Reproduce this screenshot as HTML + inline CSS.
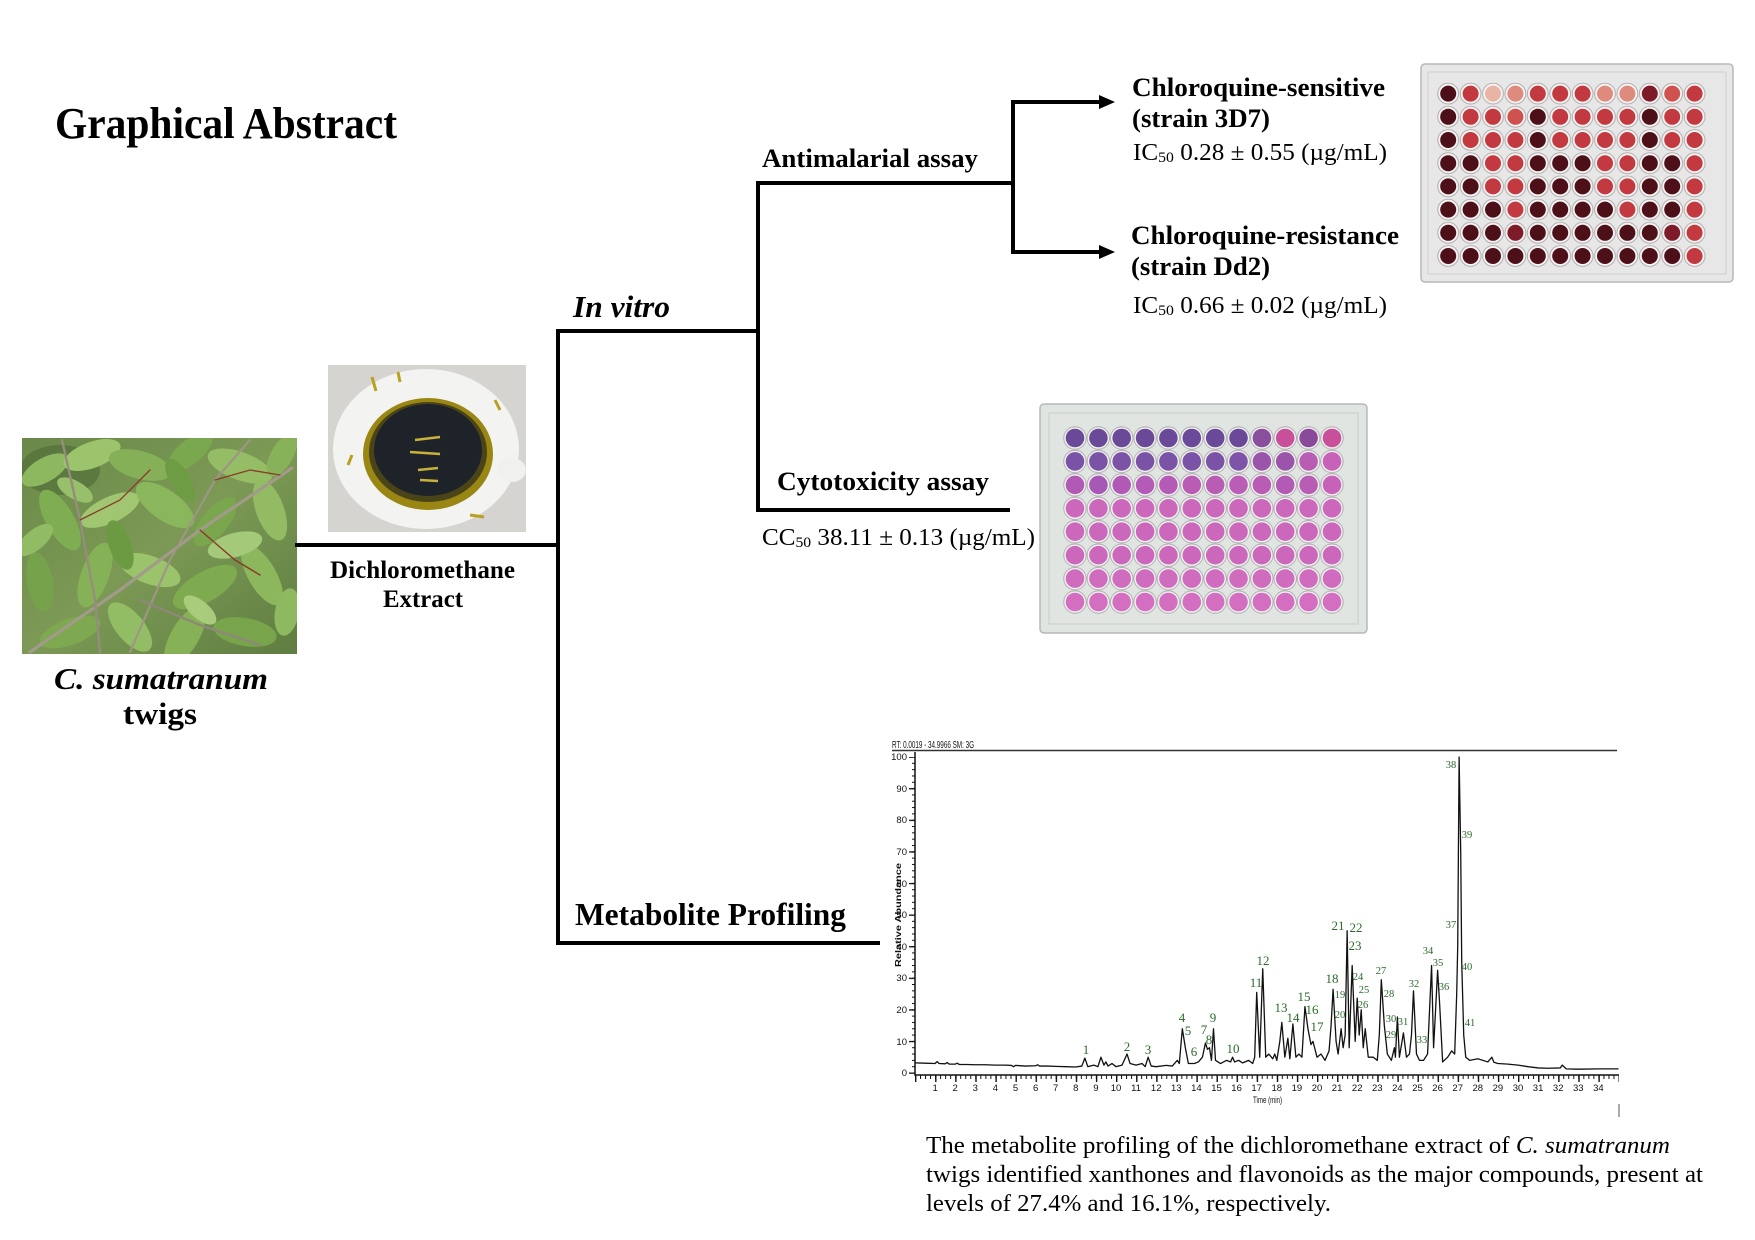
<!DOCTYPE html>
<html><head><meta charset="utf-8"><style>
html,body{margin:0;padding:0;background:#fff;}
svg{display:block;}
.t{font-family:"Liberation Serif",serif;fill:#000;}
.b{font-weight:bold;}
.i{font-style:italic;}
.lab{font-family:"Liberation Serif",serif;fill:#2b6a2b;text-anchor:middle;}
.ax{font-family:"Liberation Sans",sans-serif;fill:#111;}
</style></head><body>
<svg width="1755" height="1240" viewBox="0 0 1755 1240" xmlns="http://www.w3.org/2000/svg">
<defs>
<clipPath id="leafclip"><rect x="22" y="438" width="275" height="216"/></clipPath>
<clipPath id="bowlclip"><rect x="328" y="365" width="198" height="167"/></clipPath>
<linearGradient id="leafbg" x1="0" y1="0" x2="1" y2="1"><stop offset="0" stop-color="#6a8848"/><stop offset="0.5" stop-color="#7c9a55"/><stop offset="1" stop-color="#5f7d40"/></linearGradient>
<pattern id="rim1" x="1437" y="82" width="22.4" height="23.2" patternUnits="userSpaceOnUse"><circle cx="11.2" cy="11.6" r="10.4" fill="#f5f3f3" stroke="#aaa5a5" stroke-width="0.9"/></pattern>
<pattern id="rim2" x="1063.3" y="426.3" width="23.36" height="23.43" patternUnits="userSpaceOnUse"><circle cx="11.68" cy="11.7" r="11.2" fill="#f4f2f4" stroke="#a9aaa9" stroke-width="0.9"/></pattern>
<pattern id="xtm" x="915" y="1075" width="5.025" height="10" patternUnits="userSpaceOnUse"><rect x="0" y="0" width="1" height="4" fill="#111"/></pattern>
<pattern id="xtM" x="915" y="1075" width="20.1" height="10" patternUnits="userSpaceOnUse"><rect x="0" y="0" width="1.4" height="7" fill="#111"/></pattern>
<pattern id="ytm" x="908" y="1072.5" width="7" height="6.32" patternUnits="userSpaceOnUse"><rect x="4" y="0" width="3" height="1" fill="#111"/></pattern>
<pattern id="ytM" x="908" y="1072.5" width="7" height="31.6" patternUnits="userSpaceOnUse"><rect x="1" y="0" width="6" height="1.3" fill="#111"/></pattern>
</defs>

<!-- Title -->
<text class="t b" x="55" y="138" font-size="44" textLength="342" lengthAdjust="spacingAndGlyphs">Graphical Abstract</text>

<!-- Leaf photo -->
<g clip-path="url(#leafclip)">
<rect x="22" y="438" width="275" height="216" fill="url(#leafbg)"/>
<ellipse cx="60" cy="470" rx="40" ry="25" fill="#4f6b38" opacity="0.6"/>
<g>
<ellipse cx="45" cy="470" rx="26" ry="12" transform="rotate(-30 45 470)" fill="#8db860"/>
<ellipse cx="92" cy="455" rx="30" ry="13" transform="rotate(-20 92 455)" fill="#9cc46c"/>
<ellipse cx="140" cy="465" rx="32" ry="14" transform="rotate(15 140 465)" fill="#86b058"/>
<ellipse cx="190" cy="452" rx="28" ry="12" transform="rotate(-40 190 452)" fill="#7aa84e"/>
<ellipse cx="240" cy="466" rx="34" ry="14" transform="rotate(20 240 466)" fill="#95bd66"/>
<ellipse cx="282" cy="455" rx="24" ry="11" transform="rotate(-60 282 455)" fill="#88b25a"/>
<ellipse cx="60" cy="520" rx="34" ry="14" transform="rotate(60 60 520)" fill="#7fae52"/>
<ellipse cx="110" cy="510" rx="32" ry="13" transform="rotate(-25 110 510)" fill="#a0c672"/>
<ellipse cx="165" cy="505" rx="34" ry="15" transform="rotate(35 165 505)" fill="#8ab75c"/>
<ellipse cx="215" cy="522" rx="30" ry="13" transform="rotate(-50 215 522)" fill="#7aa74d"/>
<ellipse cx="270" cy="510" rx="32" ry="14" transform="rotate(70 270 510)" fill="#92bb63"/>
<ellipse cx="40" cy="582" rx="30" ry="13" transform="rotate(80 40 582)" fill="#75a24a"/>
<ellipse cx="95" cy="575" rx="34" ry="14" transform="rotate(-70 95 575)" fill="#86b257"/>
<ellipse cx="150" cy="570" rx="32" ry="14" transform="rotate(20 150 570)" fill="#9ac36b"/>
<ellipse cx="205" cy="587" rx="36" ry="15" transform="rotate(-30 205 587)" fill="#7fab50"/>
<ellipse cx="262" cy="575" rx="34" ry="14" transform="rotate(60 262 575)" fill="#8cb75d"/>
<ellipse cx="70" cy="632" rx="32" ry="13" transform="rotate(-20 70 632)" fill="#7ea950"/>
<ellipse cx="130" cy="627" rx="30" ry="14" transform="rotate(50 130 627)" fill="#93bd65"/>
<ellipse cx="185" cy="636" rx="34" ry="14" transform="rotate(-60 185 636)" fill="#86b157"/>
<ellipse cx="245" cy="632" rx="32" ry="14" transform="rotate(10 245 632)" fill="#78a54b"/>
<ellipse cx="287" cy="612" rx="24" ry="12" transform="rotate(-80 287 612)" fill="#8fb960"/>
<ellipse cx="120" cy="545" rx="26" ry="11" transform="rotate(70 120 545)" fill="#6c9a42"/>
<ellipse cx="235" cy="545" rx="28" ry="12" transform="rotate(-15 235 545)" fill="#a4c978"/>
<ellipse cx="180" cy="480" rx="24" ry="10" transform="rotate(60 180 480)" fill="#6e9c44"/>
<ellipse cx="35" cy="540" rx="22" ry="10" transform="rotate(-40 35 540)" fill="#92bc64"/>
<ellipse cx="200" cy="610" rx="20" ry="9" transform="rotate(40 200 610)" fill="#a8cc7c"/>
<ellipse cx="75" cy="490" rx="20" ry="9" transform="rotate(30 75 490)" fill="#98c06a"/>
</g>
<g stroke-linecap="round" fill="none">
<path d="M30,652 L120,590 L200,530 L292,468" stroke="#a29a8a" stroke-width="3.2"/>
<path d="M62,440 L80,520 L95,600 L100,652" stroke="#958d7d" stroke-width="2.4"/>
<path d="M130,652 L170,560 L215,480 L250,440" stroke="#9e9684" stroke-width="2.2"/>
<path d="M140,600 L200,625 L260,645" stroke="#8e8878" stroke-width="2.5"/>
<path d="M200,530 L235,560 L260,575" stroke="#8b3a2a" stroke-width="1.4"/>
<path d="M80,520 L120,500 L150,470" stroke="#8b3a2a" stroke-width="1.3"/>
<path d="M215,480 L250,470 L280,475" stroke="#8b3a2a" stroke-width="1.3"/>
</g>
</g>

<!-- Bowl photo -->
<g clip-path="url(#bowlclip)">
<rect x="328" y="365" width="198" height="167" fill="#d6d4d0"/>
<ellipse cx="426" cy="449" rx="93" ry="80" fill="#f3f3f1"/>
<ellipse cx="512" cy="470" rx="14" ry="12" fill="#f0f0ee"/>
<ellipse cx="428" cy="454" rx="65" ry="56" fill="#9a8612"/>
<ellipse cx="428" cy="452" rx="59" ry="50" fill="#4a4418"/>
<ellipse cx="428" cy="450" rx="54" ry="46" fill="#1e2329"/>
<path d="M415,440 l25,-3 M410,452 l30,2 M418,470 l20,-2 M420,480 l18,1" stroke="#c9b23a" stroke-width="2.5"/>
<path d="M372,377 l4,14 M398,372 l2,10 M495,400 l5,10 M352,455 l-4,10 M470,515 l14,2" stroke="#b8a020" stroke-width="3"/>
</g>

<!-- Left labels -->
<text class="t b i" x="54" y="689" font-size="31" textLength="214" lengthAdjust="spacingAndGlyphs">C. sumatranum</text>
<text class="t b" x="123" y="724" font-size="31" textLength="74" lengthAdjust="spacingAndGlyphs">twigs</text>
<text class="t b" x="330" y="578" font-size="25" textLength="185" lengthAdjust="spacingAndGlyphs">Dichloromethane</text>
<text class="t b" x="383" y="607" font-size="25" textLength="80" lengthAdjust="spacingAndGlyphs">Extract</text>

<!-- Tree lines -->
<g stroke="#000" stroke-width="4" fill="none" stroke-linecap="square">
<path d="M297,545 H558"/>
<path d="M558,331 V943"/>
<path d="M558,331 H758"/>
<path d="M758,183 V510"/>
<path d="M758,183 H1013"/>
<path d="M1013,102 V252"/>
<path d="M1013,102 H1101"/>
<path d="M1013,252 H1101"/>
<path d="M758,510 H1008"/>
<path d="M558,943 H878"/>
</g>
<polygon points="1099,95 1115,102 1099,109" fill="#000"/>
<polygon points="1099,245 1115,252 1099,259" fill="#000"/>

<text class="t b i" x="573" y="317" font-size="31" textLength="97" lengthAdjust="spacingAndGlyphs">In vitro</text>
<text class="t b" x="762" y="167" font-size="26" textLength="216" lengthAdjust="spacingAndGlyphs">Antimalarial assay</text>
<text class="t b" x="1132" y="96" font-size="26" textLength="253" lengthAdjust="spacingAndGlyphs">Chloroquine-sensitive</text>
<text class="t b" x="1132" y="127" font-size="26" textLength="138" lengthAdjust="spacingAndGlyphs">(strain 3D7)</text>
<text class="t" x="1133" y="160" font-size="24" textLength="254" lengthAdjust="spacingAndGlyphs">IC<tspan font-size="15" dy="2">50</tspan><tspan dy="-2"> 0.28 ± 0.55 (µg/mL)</tspan></text>
<text class="t b" x="1131" y="244" font-size="26" textLength="268" lengthAdjust="spacingAndGlyphs">Chloroquine-resistance</text>
<text class="t b" x="1131" y="275" font-size="26" textLength="139" lengthAdjust="spacingAndGlyphs">(strain Dd2)</text>
<text class="t" x="1133" y="313" font-size="24" textLength="254" lengthAdjust="spacingAndGlyphs">IC<tspan font-size="15" dy="2">50</tspan><tspan dy="-2"> 0.66 ± 0.02 (µg/mL)</tspan></text>
<text class="t b" x="777" y="490" font-size="26" textLength="212" lengthAdjust="spacingAndGlyphs">Cytotoxicity assay</text>
<text class="t" x="762" y="545" font-size="24" textLength="273" lengthAdjust="spacingAndGlyphs">CC<tspan font-size="15" dy="2">50</tspan><tspan dy="-2"> 38.11 ± 0.13 (µg/mL)</tspan></text>
<text class="t b" x="575" y="925" font-size="32" textLength="271" lengthAdjust="spacingAndGlyphs">Metabolite Profiling</text>

<!-- Plate 1 -->
<rect x="1421" y="64" width="312" height="218" rx="4" fill="#e8e7e7" stroke="#b9b7b7" stroke-width="1.5"/>
<rect x="1428" y="72" width="298" height="202" fill="none" stroke="#cfcdcd" stroke-width="1"/>
<rect x="1437" y="82" width="268.8" height="185.6" fill="url(#rim1)"/>
<g transform="translate(-7,0)">
<g transform="translate(0,93.6)"><circle cx="1455.2" r="8" fill="#4d1019"/><circle cx="1477.6" r="8" fill="#c23a40"/><circle cx="1500" r="8" fill="#e8b4a4"/><circle cx="1522.4" r="8" fill="#de8a7c"/><circle cx="1544.8" r="8" fill="#c23a40"/><circle cx="1567.2" r="8" fill="#c23a40"/><circle cx="1589.6" r="8" fill="#c23a40"/><circle cx="1612" r="8" fill="#de8a7c"/><circle cx="1634.4" r="8" fill="#de8a7c"/><circle cx="1656.8" r="8" fill="#7d1c28"/><circle cx="1679.2" r="8" fill="#d0524e"/><circle cx="1701.6" r="8" fill="#c23a40"/></g>
<g transform="translate(0,116.8)"><circle cx="1455.2" r="8" fill="#4d1019"/><circle cx="1477.6" r="8" fill="#c23a40"/><circle cx="1500" r="8" fill="#c23a40"/><circle cx="1522.4" r="8" fill="#d0524e"/><circle cx="1544.8" r="8" fill="#4d1019"/><circle cx="1567.2" r="8" fill="#c23a40"/><circle cx="1589.6" r="8" fill="#c23a40"/><circle cx="1612" r="8" fill="#c23a40"/><circle cx="1634.4" r="8" fill="#c23a40"/><circle cx="1656.8" r="8" fill="#4d1019"/><circle cx="1679.2" r="8" fill="#c23a40"/><circle cx="1701.6" r="8" fill="#c23a40"/></g>
<g transform="translate(0,140)"><circle cx="1455.2" r="8" fill="#4d1019"/><circle cx="1477.6" r="8" fill="#c23a40"/><circle cx="1500" r="8" fill="#c23a40"/><circle cx="1522.4" r="8" fill="#c23a40"/><circle cx="1544.8" r="8" fill="#4d1019"/><circle cx="1567.2" r="8" fill="#c23a40"/><circle cx="1589.6" r="8" fill="#c23a40"/><circle cx="1612" r="8" fill="#c23a40"/><circle cx="1634.4" r="8" fill="#c23a40"/><circle cx="1656.8" r="8" fill="#4d1019"/><circle cx="1679.2" r="8" fill="#c23a40"/><circle cx="1701.6" r="8" fill="#c23a40"/></g>
<g transform="translate(0,163.2)"><circle cx="1455.2" r="8" fill="#4d1019"/><circle cx="1477.6" r="8" fill="#4d1019"/><circle cx="1500" r="8" fill="#c23a40"/><circle cx="1522.4" r="8" fill="#c23a40"/><circle cx="1544.8" r="8" fill="#4d1019"/><circle cx="1567.2" r="8" fill="#4d1019"/><circle cx="1589.6" r="8" fill="#4d1019"/><circle cx="1612" r="8" fill="#c23a40"/><circle cx="1634.4" r="8" fill="#c23a40"/><circle cx="1656.8" r="8" fill="#4d1019"/><circle cx="1679.2" r="8" fill="#4d1019"/><circle cx="1701.6" r="8" fill="#c23a40"/></g>
<g transform="translate(0,186.4)"><circle cx="1455.2" r="8" fill="#4d1019"/><circle cx="1477.6" r="8" fill="#4d1019"/><circle cx="1500" r="8" fill="#c23a40"/><circle cx="1522.4" r="8" fill="#c23a40"/><circle cx="1544.8" r="8" fill="#4d1019"/><circle cx="1567.2" r="8" fill="#4d1019"/><circle cx="1589.6" r="8" fill="#4d1019"/><circle cx="1612" r="8" fill="#c23a40"/><circle cx="1634.4" r="8" fill="#c23a40"/><circle cx="1656.8" r="8" fill="#4d1019"/><circle cx="1679.2" r="8" fill="#4d1019"/><circle cx="1701.6" r="8" fill="#c23a40"/></g>
<g transform="translate(0,209.6)"><circle cx="1455.2" r="8" fill="#4d1019"/><circle cx="1477.6" r="8" fill="#4d1019"/><circle cx="1500" r="8" fill="#4d1019"/><circle cx="1522.4" r="8" fill="#c23a40"/><circle cx="1544.8" r="8" fill="#4d1019"/><circle cx="1567.2" r="8" fill="#4d1019"/><circle cx="1589.6" r="8" fill="#4d1019"/><circle cx="1612" r="8" fill="#4d1019"/><circle cx="1634.4" r="8" fill="#c23a40"/><circle cx="1656.8" r="8" fill="#4d1019"/><circle cx="1679.2" r="8" fill="#4d1019"/><circle cx="1701.6" r="8" fill="#c23a40"/></g>
<g transform="translate(0,232.8)"><circle cx="1455.2" r="8" fill="#4d1019"/><circle cx="1477.6" r="8" fill="#4d1019"/><circle cx="1500" r="8" fill="#4d1019"/><circle cx="1522.4" r="8" fill="#7d1c28"/><circle cx="1544.8" r="8" fill="#4d1019"/><circle cx="1567.2" r="8" fill="#4d1019"/><circle cx="1589.6" r="8" fill="#4d1019"/><circle cx="1612" r="8" fill="#4d1019"/><circle cx="1634.4" r="8" fill="#4d1019"/><circle cx="1656.8" r="8" fill="#4d1019"/><circle cx="1679.2" r="8" fill="#7d1c28"/><circle cx="1701.6" r="8" fill="#c23a40"/></g>
<g transform="translate(0,256)"><circle cx="1455.2" r="8" fill="#4d1019"/><circle cx="1477.6" r="8" fill="#4d1019"/><circle cx="1500" r="8" fill="#4d1019"/><circle cx="1522.4" r="8" fill="#4d1019"/><circle cx="1544.8" r="8" fill="#4d1019"/><circle cx="1567.2" r="8" fill="#4d1019"/><circle cx="1589.6" r="8" fill="#4d1019"/><circle cx="1612" r="8" fill="#4d1019"/><circle cx="1634.4" r="8" fill="#4d1019"/><circle cx="1656.8" r="8" fill="#4d1019"/><circle cx="1679.2" r="8" fill="#4d1019"/><circle cx="1701.6" r="8" fill="#c23a40"/></g>
</g>

<!-- Plate 2 -->
<rect x="1040" y="404" width="327" height="229" rx="4" fill="#e1e5e1" stroke="#b6bab6" stroke-width="1.5"/>
<rect x="1049" y="413" width="309" height="211" fill="none" stroke="#c9cdc9" stroke-width="1"/>
<rect x="1063.3" y="426.3" width="280.4" height="187.5" fill="url(#rim2)"/>
<g>
<g transform="translate(0,438)"><circle cx="1075" r="9.3" fill="#6a4a98"/><circle cx="1098.4" r="9.3" fill="#6a4a98"/><circle cx="1121.7" r="9.3" fill="#6a4a98"/><circle cx="1145.1" r="9.3" fill="#6a4a98"/><circle cx="1168.4" r="9.3" fill="#6a4a98"/><circle cx="1191.8" r="9.3" fill="#6a4a98"/><circle cx="1215.2" r="9.3" fill="#6a4a98"/><circle cx="1238.5" r="9.3" fill="#6a4a98"/><circle cx="1261.9" r="9.3" fill="#8a4f9c"/><circle cx="1285.2" r="9.3" fill="#c8509a"/><circle cx="1308.6" r="9.3" fill="#8a4a9a"/><circle cx="1332" r="9.3" fill="#c8509a"/></g>
<g transform="translate(0,461.4)"><circle cx="1075" r="9.3" fill="#7a53a6"/><circle cx="1098.4" r="9.3" fill="#7a53a6"/><circle cx="1121.7" r="9.3" fill="#7a53a6"/><circle cx="1145.1" r="9.3" fill="#7a53a6"/><circle cx="1168.4" r="9.3" fill="#7a53a6"/><circle cx="1191.8" r="9.3" fill="#7a53a6"/><circle cx="1215.2" r="9.3" fill="#7a53a6"/><circle cx="1238.5" r="9.3" fill="#7d54a8"/><circle cx="1261.9" r="9.3" fill="#9a55ab"/><circle cx="1285.2" r="9.3" fill="#9a55ab"/><circle cx="1308.6" r="9.3" fill="#b85cb4"/><circle cx="1332" r="9.3" fill="#c862b8"/></g>
<g transform="translate(0,484.9)"><circle cx="1075" r="9.3" fill="#b05ab5"/><circle cx="1098.4" r="9.3" fill="#a658b4"/><circle cx="1121.7" r="9.3" fill="#b05ab5"/><circle cx="1145.1" r="9.3" fill="#b35bb6"/><circle cx="1168.4" r="9.3" fill="#b35bb6"/><circle cx="1191.8" r="9.3" fill="#b85cb4"/><circle cx="1215.2" r="9.3" fill="#b85cb4"/><circle cx="1238.5" r="9.3" fill="#ba5db6"/><circle cx="1261.9" r="9.3" fill="#b85cb4"/><circle cx="1285.2" r="9.3" fill="#b25ab4"/><circle cx="1308.6" r="9.3" fill="#b85cb4"/><circle cx="1332" r="9.3" fill="#c862b8"/></g>
</g>
<g fill="#cc68bc">
<g transform="translate(0,508.3)"><circle cx="1075" r="9.3"/><circle cx="1098.4" r="9.3"/><circle cx="1121.7" r="9.3"/><circle cx="1145.1" r="9.3"/><circle cx="1168.4" r="9.3"/><circle cx="1191.8" r="9.3"/><circle cx="1215.2" r="9.3"/><circle cx="1238.5" r="9.3"/><circle cx="1261.9" r="9.3"/><circle cx="1285.2" r="9.3"/><circle cx="1308.6" r="9.3"/><circle cx="1332" r="9.3"/></g>
<g transform="translate(0,531.7)"><circle cx="1075" r="9.3"/><circle cx="1098.4" r="9.3"/><circle cx="1121.7" r="9.3"/><circle cx="1145.1" r="9.3"/><circle cx="1168.4" r="9.3"/><circle cx="1191.8" r="9.3"/><circle cx="1215.2" r="9.3"/><circle cx="1238.5" r="9.3"/><circle cx="1261.9" r="9.3"/><circle cx="1285.2" r="9.3"/><circle cx="1308.6" r="9.3"/><circle cx="1332" r="9.3"/></g>
<g transform="translate(0,555.2)"><circle cx="1075" r="9.3"/><circle cx="1098.4" r="9.3"/><circle cx="1121.7" r="9.3"/><circle cx="1145.1" r="9.3"/><circle cx="1168.4" r="9.3"/><circle cx="1191.8" r="9.3"/><circle cx="1215.2" r="9.3"/><circle cx="1238.5" r="9.3"/><circle cx="1261.9" r="9.3"/><circle cx="1285.2" r="9.3"/><circle cx="1308.6" r="9.3"/><circle cx="1332" r="9.3"/></g>
<g transform="translate(0,578.6)" fill="#d06cbe"><circle cx="1075" r="9.3"/><circle cx="1098.4" r="9.3"/><circle cx="1121.7" r="9.3"/><circle cx="1145.1" r="9.3"/><circle cx="1168.4" r="9.3"/><circle cx="1191.8" r="9.3"/><circle cx="1215.2" r="9.3"/><circle cx="1238.5" r="9.3"/><circle cx="1261.9" r="9.3"/><circle cx="1285.2" r="9.3"/><circle cx="1308.6" r="9.3"/><circle cx="1332" r="9.3"/></g>
<g transform="translate(0,602)" fill="#d46ec0"><circle cx="1075" r="9.3"/><circle cx="1098.4" r="9.3"/><circle cx="1121.7" r="9.3"/><circle cx="1145.1" r="9.3"/><circle cx="1168.4" r="9.3"/><circle cx="1191.8" r="9.3"/><circle cx="1215.2" r="9.3"/><circle cx="1238.5" r="9.3"/><circle cx="1261.9" r="9.3"/><circle cx="1285.2" r="9.3"/><circle cx="1308.6" r="9.3"/><circle cx="1332" r="9.3"/></g>
</g>

<!-- Chromatogram -->
<text class="ax" x="892" y="748" font-size="10" textLength="82" lengthAdjust="spacingAndGlyphs">RT: 0.0019 - 34.9966  SM: 3G</text>
<path d="M892,750.5 H1617" stroke="#333" stroke-width="1.5"/>
<path d="M915,752 V1075 H1619" stroke="#111" stroke-width="1.5" fill="none"/>
<rect x="908" y="757" width="7" height="318" fill="url(#ytm)"/>
<rect x="908" y="757" width="7" height="318" fill="url(#ytM)"/>
<rect x="915" y="1075" width="704" height="5" fill="url(#xtm)"/>
<rect x="915" y="1075" width="704" height="8" fill="url(#xtM)"/>
<path d="M1619,1104 V1117" stroke="#555" stroke-width="1"/>
<g class="ax" font-size="9.5" text-anchor="end">
<text x="907" y="1076">0</text><text x="907" y="1045">10</text><text x="907" y="1013">20</text><text x="907" y="981">30</text><text x="907" y="950">40</text><text x="907" y="918">50</text><text x="907" y="887">60</text><text x="907" y="855">70</text><text x="907" y="823">80</text><text x="907" y="792">90</text><text x="907" y="760">100</text>
</g>
<g class="ax" font-size="9.5" text-anchor="middle">
<text x="935.1" y="1091">1</text><text x="955.2" y="1091">2</text><text x="975.3" y="1091">3</text><text x="995.4" y="1091">4</text><text x="1015.5" y="1091">5</text><text x="1035.6" y="1091">6</text><text x="1055.7" y="1091">7</text><text x="1075.8" y="1091">8</text><text x="1095.9" y="1091">9</text><text x="1116" y="1091">10</text><text x="1136.1" y="1091">11</text><text x="1156.2" y="1091">12</text><text x="1176.3" y="1091">13</text><text x="1196.4" y="1091">14</text><text x="1216.5" y="1091">15</text><text x="1236.6" y="1091">16</text><text x="1256.7" y="1091">17</text><text x="1276.8" y="1091">18</text><text x="1296.9" y="1091">19</text><text x="1317" y="1091">20</text><text x="1337.1" y="1091">21</text><text x="1357.2" y="1091">22</text><text x="1377.3" y="1091">23</text><text x="1397.4" y="1091">24</text><text x="1417.5" y="1091">25</text><text x="1437.6" y="1091">26</text><text x="1457.7" y="1091">27</text><text x="1477.8" y="1091">28</text><text x="1497.9" y="1091">29</text><text x="1518" y="1091">30</text><text x="1538.1" y="1091">31</text><text x="1558.2" y="1091">32</text><text x="1578.3" y="1091">33</text><text x="1598.4" y="1091">34</text>
</g>
<text class="ax" x="1253" y="1103" font-size="9" textLength="29" lengthAdjust="spacingAndGlyphs">Time (min)</text>
<text class="ax" font-size="8" font-weight="bold" transform="translate(901,915) rotate(-90)" text-anchor="middle" textLength="104" lengthAdjust="spacingAndGlyphs">Relative Abundance</text>

<g transform="translate(915,1073) scale(20.1,-3.16)">
<polyline fill="none" stroke="#111" stroke-width="1.3" vector-effect="non-scaling-stroke" stroke-linejoin="round" points="0,3.2 0.5,3.1 1.0,3.0 1.1,3.6 1.2,3.0 1.5,2.9 1.6,3.3 1.7,2.8 2.0,2.8 2.1,3.1 2.2,2.7 2.6,2.7 3.0,2.6 3.5,2.6 4.0,2.5 4.5,2.5 4.8,2.4 4.9,2.0 5.0,2.4 5.5,2.2 6.0,2.3 6.1,2.6 6.2,2.2 6.6,2.2 7.0,2.1 7.5,2.0 8.0,1.9 8.3,2.2 8.45,4.7 8.6,2.0 8.9,2.5 9.1,2.0 9.25,5.0 9.4,2.5 9.5,3.5 9.6,2.2 9.8,3.0 10.0,2.0 10.3,2.5 10.55,6.0 10.7,3.0 11.0,2.5 11.3,3.0 11.45,2.0 11.6,5.0 11.75,2.2 12.0,2.0 12.5,2.4 12.8,2.2 13.05,4.0 13.15,3.0 13.3,14.0 13.45,8 13.6,3.0 13.9,3.0 14.1,3.5 14.3,5 14.45,9.5 14.55,7.5 14.65,8 14.75,4 14.85,14 14.95,4 15.2,3.0 15.5,4.0 15.7,3.5 15.8,5.0 15.9,3.5 16.1,4.0 16.3,3.2 16.6,4.0 16.8,3.0 16.9,5 17.0,25.5 17.15,5 17.3,33 17.45,5 17.6,6 17.8,4.5 17.9,6 18.0,4 18.15,10 18.25,16 18.4,5 18.55,11 18.65,4.5 18.8,15.5 18.95,5 19.1,6 19.25,5 19.4,21 19.55,14 19.7,9 19.8,10 20.0,5 20.2,6 20.4,4 20.6,7 20.7,15 20.8,26.5 20.95,10 21.05,6 21.2,14 21.3,8 21.4,12 21.5,45 21.6,8 21.75,34 21.9,10 22.0,23.7 22.1,12 22.2,20 22.3,8 22.4,14 22.55,5 22.8,5 23.0,4 23.1,12 23.2,29.5 23.35,15 23.5,6 23.7,4 23.85,8 23.9,5 24.0,17.7 24.1,5 24.3,12.7 24.45,5 24.6,6 24.7,12 24.8,26 24.95,6 25.1,4 25.3,4 25.5,6 25.6,20 25.7,34 25.8,8 25.9,20 26.0,32.5 26.1,22 26.25,3.5 26.5,5 26.7,7 26.85,6 26.95,25 27.0,40 27.07,100 27.15,70 27.2,35 27.3,12 27.4,5 27.6,4 28.0,4.5 28.5,3.5 28.7,5 28.8,3.4 29.0,3 29.5,2.8 30.0,2.5 30.5,2.0 31.0,1.6 31.5,1.5 32.1,1.6 32.2,2.5 32.4,1.3 33.0,1.2 34.0,1.3 35.0,1.3"/>
</g>

<g class="lab" font-size="13">
<text x="1086" y="1054">1</text><text x="1127" y="1051">2</text><text x="1148" y="1054">3</text><text x="1182" y="1022">4</text><text x="1188" y="1035">5</text><text x="1194" y="1056">6</text><text x="1204" y="1034">7</text><text x="1209" y="1044">8</text><text x="1213" y="1022">9</text><text x="1233" y="1053">10</text><text x="1256" y="987">11</text><text x="1263" y="965">12</text><text x="1281" y="1012">13</text><text x="1293" y="1022">14</text><text x="1304" y="1001">15</text><text x="1312" y="1014">16</text><text x="1317" y="1031">17</text><text x="1332" y="983">18</text><text x="1338" y="930">21</text><text x="1356" y="932">22</text><text x="1355" y="950">23</text>
</g>
<g class="lab" font-size="10.5">
<text x="1340" y="998">19</text><text x="1340" y="1018">20</text><text x="1358" y="980">24</text><text x="1364" y="993">25</text><text x="1363" y="1008">26</text><text x="1381" y="974">27</text><text x="1389" y="997">28</text><text x="1391" y="1038">29</text><text x="1391" y="1022">30</text><text x="1403" y="1025">31</text><text x="1414" y="987">32</text><text x="1422" y="1043">33</text><text x="1428" y="954">34</text><text x="1438" y="966">35</text><text x="1444" y="990">36</text><text x="1451" y="928">37</text><text x="1451" y="768">38</text><text x="1467" y="838">39</text><text x="1467" y="970">40</text><text x="1470" y="1026">41</text>
</g>

<!-- Caption -->
<text class="t" x="926" y="1153" font-size="24" textLength="744" lengthAdjust="spacingAndGlyphs">The metabolite profiling of the dichloromethane extract of <tspan font-style="italic">C. sumatranum</tspan></text>
<text class="t" x="926" y="1182" font-size="24" textLength="777" lengthAdjust="spacingAndGlyphs">twigs identified xanthones and flavonoids as the major compounds, present at</text>
<text class="t" x="926" y="1211" font-size="24" textLength="405" lengthAdjust="spacingAndGlyphs">levels of 27.4% and 16.1%, respectively.</text>
</svg>
</body></html>
